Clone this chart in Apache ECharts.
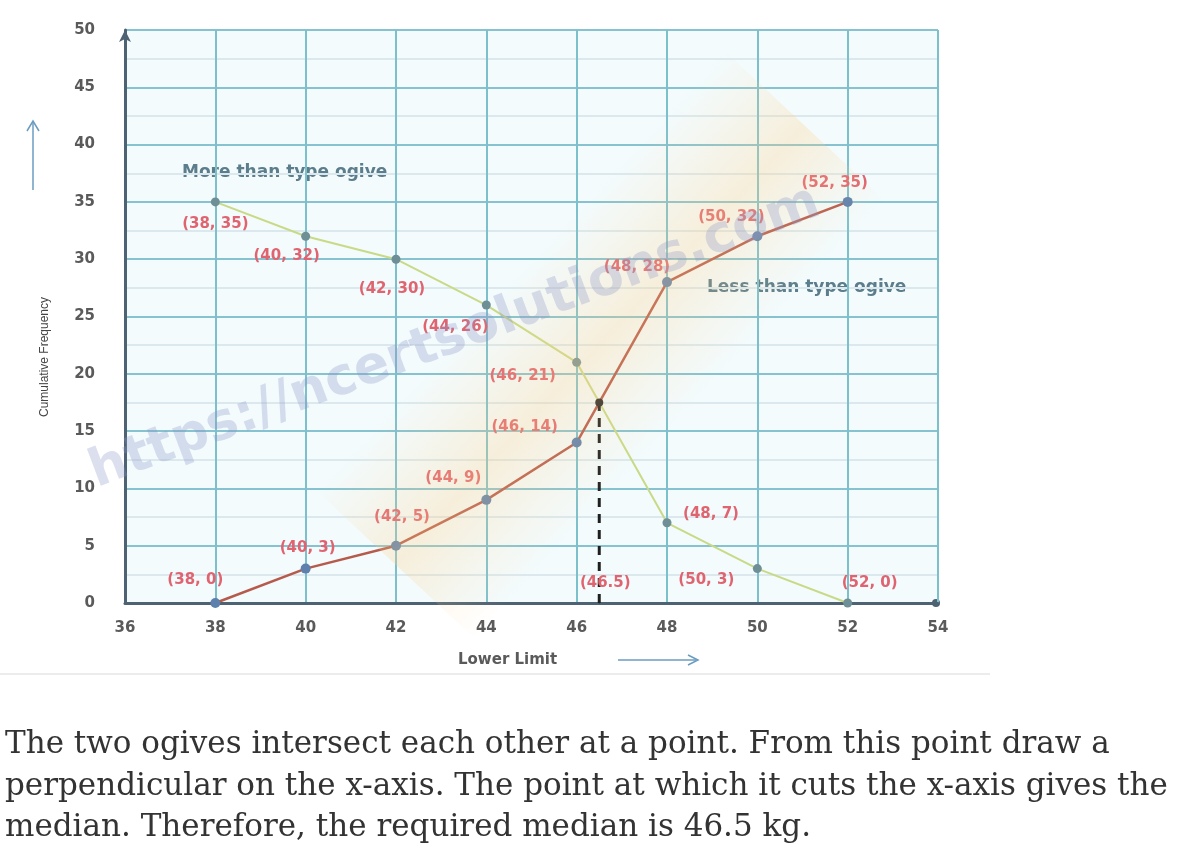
<!DOCTYPE html>
<html>
<head>
<meta charset="utf-8">
<script src="https://cdn.jsdelivr.net/npm/echarts@6/dist/echarts.min.js"></script>
<style>
  html, body { margin: 0; padding: 0; background: #fff; }
  #main { width: 1185px; height: 855px; }
</style>
</head>
<body>
<div id="main"></div>
<script>
// lower limits of the classes (kg)
var lowerLimits = [38, 40, 42, 44, 46, 48, 50, 52];
// more than type cumulative frequency
var moreThan = [35, 32, 30, 26, 21, 7, 3, 0];
// less than type cumulative frequency
var lessThan = [0, 3, 5, 9, 14, 28, 32, 35];
var medianX = 46.5;
var medianY = 17.5;

var noteLines = [
    'The two ogives intersect each other at a point. From this point draw a',
    'perpendicular on the x-axis. The point at which it cuts the x-axis gives the',
    'median. Therefore, the required median is 46.5 kg.'
];

// label offsets in px, per point
var moreOffsets = [[0, 22], [-19, 20], [-4, 30], [-31, 22], [-54, 14], [44, -9], [-51, 11], [22, -20]];
var lessOffsets = [[-20, -23], [2, -21], [6, -29], [-33, -22], [-52, -15], [-30, -15], [-26, -19], [-13, -19]];

function buildPoints(ys, offsets) {
    return lowerLimits.map(function (x, i) {
        return {
            value: [x, ys[i]],
            label: { offset: offsets[i] }
        };
    });
}

var labelStyle = {
    show: true,
    position: 'inside',
    formatter: function (p) { return '(' + p.value[0] + ', ' + p.value[1] + ')'; },
    color: '#e06470',
    fontSize: 15,
    fontWeight: 'bold',
    fontFamily: 'DejaVu Sans'
};

var myChart = echarts.init(document.getElementById('main'));

var noteText = noteLines.map(function (t, i) {
    return {
        type: 'text', x: 5, y: 745 + i * 41.5,
        style: { text: t, verticalAlign: 'middle', fontSize: 31, fontFamily: 'DejaVu Serif', fill: '#333' }
    };
});

var option = {
    backgroundColor: '#ffffff',
    animation: false,
    grid: {
        left: 125, right: 247, top: 30, bottom: 252,
        show: true, backgroundColor: '#f3fbfd', borderWidth: 0
    },
    xAxis: {
        type: 'value', min: 36, max: 54, interval: 2,
        axisLine: { lineStyle: { color: '#4d6272', width: 3 } },
        axisTick: { show: false },
        axisLabel: { color: '#5a5a5a', fontSize: 15, fontWeight: 'bold', margin: 18, fontFamily: 'DejaVu Sans' },
        splitLine: { show: true, lineStyle: { color: '#7cc0cc', width: 2 } }
    },
    yAxis: {
        type: 'value', min: 0, max: 50, interval: 5,
        axisLine: { show: true, symbol: ['none', 'arrow'], symbolSize: [9, 12], lineStyle: { color: '#4d6272', width: 3 } },
        axisTick: { show: false },
        axisLabel: { color: '#5a5a5a', fontSize: 15, fontWeight: 'bold', margin: 30, fontFamily: 'DejaVu Sans' },
        splitLine: { show: true, lineStyle: { color: '#86c2cf', width: 2 } },
        minorTick: { show: false, splitNumber: 2 },
        minorSplitLine: { show: true, lineStyle: { color: '#dbe9ee', width: 2 } }
    },
    series: [
        {
            name: 'More than type ogive',
            type: 'line',
            data: buildPoints(moreThan, moreOffsets),
            symbol: 'circle', symbolSize: 9,
            itemStyle: { color: '#6f8f96' },
            lineStyle: { color: '#c9da86', width: 2 },
            label: labelStyle,
            z: 3
        },
        {
            name: 'Less than type ogive',
            type: 'line',
            data: buildPoints(lessThan, lessOffsets),
            symbol: 'circle', symbolSize: 10,
            itemStyle: { color: '#5d80ad' },
            lineStyle: { color: '#b65a4c', width: 2.5 },
            label: labelStyle,
            z: 4
        },
        {
            name: 'median',
            type: 'line',
            data: [
                { value: [medianX, 0], symbolSize: 1, label: { show: true, offset: [6, -20] } },
                { value: [medianX, medianY], symbolSize: 8 }
            ],
            symbol: 'circle',
            itemStyle: { color: '#2a2a2a' },
            lineStyle: { color: '#1f1f1f', width: 3, type: [9, 7] },
            label: {
                show: false, position: 'inside',
                formatter: '(' + medianX + ')',
                color: '#e06470', fontSize: 15, fontWeight: 'bold', fontFamily: 'DejaVu Sans'
            },
            z: 5
        }
    ],
    graphic: [
        // watermark band and text
        {
            type: 'rect', z: 10, silent: true,
            x: 600, y: 345, rotation: 0.82,
            shape: { x: -300, y: -110, width: 600, height: 220 },
            style: {
                fill: {
                    type: 'linear', x: 0, y: 0, x2: 0, y2: 1,
                    colorStops: [
                        { offset: 0, color: 'rgba(255,210,140,0)' },
                        { offset: 0.5, color: 'rgba(255,205,130,0.28)' },
                        { offset: 1, color: 'rgba(255,210,140,0)' }
                    ]
                }
            }
        },
        {
            type: 'text', z: 11, silent: true,
            x: 455, y: 338, rotation: 0.36,
            style: {
                text: 'https://ncertsolutions.com', align: 'center', verticalAlign: 'middle',
                fontSize: 52, fontWeight: 'bold', fontFamily: 'DejaVu Sans',
                fill: 'rgba(140,150,200,0.3)'
            }
        },
        {
            type: 'text', x: 45, y: 357, rotation: Math.PI / 2,
            style: { text: 'Cumulative Frequency', align: 'center', verticalAlign: 'middle', fontSize: 12, fontFamily: 'Liberation Sans', fill: '#444' }
        },
        {
            type: 'text', x: 182, y: 173,
            style: { text: 'More than type ogive', verticalAlign: 'middle', fontSize: 17, fontWeight: 'bold', fontFamily: 'DejaVu Sans', fill: '#5b7d8c' }
        },
        {
            type: 'text', x: 707, y: 288,
            style: { text: 'Less than type ogive', verticalAlign: 'middle', fontSize: 17, fontWeight: 'bold', fontFamily: 'DejaVu Sans', fill: '#5b7d8c' }
        },
        {
            type: 'text', x: 458, y: 660,
            style: { text: 'Lower Limit', verticalAlign: 'middle', fontSize: 15, fontWeight: 'bold', fontFamily: 'DejaVu Sans', fill: '#5a5a5a' }
        },
        {
            type: 'line', shape: { x1: 618, y1: 660, x2: 696, y2: 660 },
            style: { stroke: '#6a9cc0', lineWidth: 1.5 }
        },
        {
            type: 'polyline', shape: { points: [[688, 655], [698, 660], [688, 665]] },
            style: { stroke: '#6a9cc0', lineWidth: 1.5, fill: null }
        },
        {
            type: 'line', shape: { x1: 33, y1: 190, x2: 33, y2: 122 },
            style: { stroke: '#6a9cc0', lineWidth: 1.5 }
        },
        {
            type: 'polyline', shape: { points: [[27, 131], [33, 121], [39, 131]] },
            style: { stroke: '#6a9cc0', lineWidth: 1.5, fill: null }
        },
        {
            type: 'circle', shape: { cx: 936, cy: 603, r: 4 },
            style: { fill: '#4d6272' }
        },
        {
            type: 'line', shape: { x1: 0, y1: 674, x2: 990, y2: 674 },
            style: { stroke: '#ececec', lineWidth: 2 }
        }
    ].concat(noteText)
};

myChart.setOption(option);
</script>
</body>
</html>
